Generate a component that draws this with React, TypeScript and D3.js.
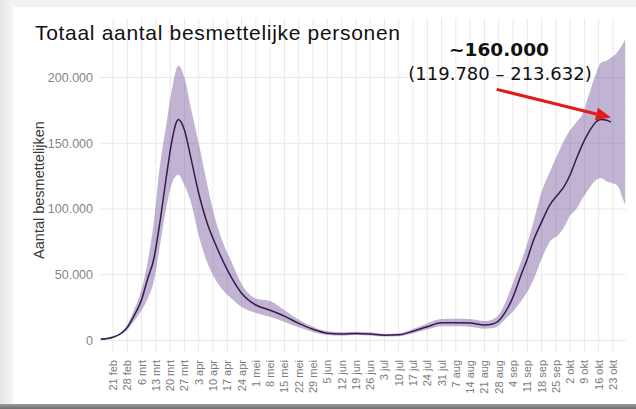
import React from "react";
import * as d3 from "d3";

const dates = [
  "2020-02-15","2020-02-21","2020-02-25","2020-02-28","2020-03-02","2020-03-06","2020-03-09","2020-03-12",
  "2020-03-15","2020-03-18","2020-03-21","2020-03-24","2020-03-27","2020-03-30","2020-04-03","2020-04-07",
  "2020-04-11","2020-04-15","2020-04-19","2020-04-24","2020-05-01","2020-05-08","2020-05-15","2020-05-22",
  "2020-05-29","2020-06-05","2020-06-12","2020-06-19","2020-06-26","2020-07-03","2020-07-10","2020-07-17",
  "2020-07-24","2020-07-31","2020-08-07","2020-08-14","2020-08-21","2020-08-25","2020-08-28","2020-08-31",
  "2020-09-04","2020-09-08","2020-09-11","2020-09-14","2020-09-18","2020-09-22","2020-09-26","2020-09-29",
  "2020-10-02","2020-10-05","2020-10-08","2020-10-11","2020-10-14","2020-10-17","2020-10-20","2020-10-22",
  "2020-10-25","2020-10-28","2020-10-29",
];

const mid: (number | null)[] = [
  1000, 2500, 5500, 10000, 18000, 31000, 47000, 62000,
  90000, 123000, 153000, 168000, 160000, 140000, 112000, 90000,
  74000, 60000, 48000, 36000, 27000, 23000, 18500, 13000,
  8500, 5500, 4900, 5400, 4900, 4000, 4300, 7000,
  10500, 13500, 13500, 13300, 11800, 12500, 15000, 21000,
  33000, 50000, 62000, 76000, 90000, 103000, 111000, 117000,
  126000, 138000, 149000, 158000, 165000, 168000, 167500, 166000,
  null, null, null,
];

const lower = [
  500, 2000, 4500, 8000, 14000, 23000, 32000, 45000,
  72000, 100000, 120000, 126000, 118000, 106000, 80000, 60000,
  47000, 38000, 32000, 25500, 21000, 18000, 14000, 10000,
  6500, 4200, 3700, 4200, 3800, 3000, 3200, 5500,
  8300, 10800, 10800, 10500, 9000, 9500, 11500, 16000,
  22000, 30000, 37000, 46000, 62000, 75000, 80000, 86000,
  95000, 100000, 108000, 115000, 121000, 123500, 121000, 120000,
  118000, 107000, 103000,
];

const upper = [
  1500, 3000, 6500, 12000, 22000, 39000, 60000, 90000,
  133000, 163000, 192000, 209000, 200000, 178000, 150000, 120000,
  93000, 74000, 60000, 43000, 32000, 30000, 23000, 16000,
  10500, 7000, 6200, 6700, 6200, 5200, 5600, 8800,
  13000, 16300, 16500, 16300, 14800, 16000, 19500, 28000,
  44000, 60000, 74000, 90000, 113000, 128000, 142000, 152000,
  160000, 166000, 172000, 186000, 200000, 211000, 213000, 215000,
  219000, 226000, 229000,
];

const yTicks = [0, 50000, 100000, 150000, 200000];
const firstTick = "2020-02-21";
const tickCount = 36;
const nlMonths = ["jan", "feb", "mrt", "apr", "mei", "jun", "jul", "aug", "sep", "okt", "nov", "dec"];

const title = "Totaal aantal besmettelijke personen";
const yTitle = "Aantal besmettelijken";
const noteMain = "~160.000";
const noteRange = "(119.780 \u2013 213.632)";
const arrowFrom = { date: "2020-08-27", value: 191000 };
const arrowTo = { date: "2020-10-22", value: 169500 };

const W = 636;
const H = 409;

export default function App() {
  const parse = d3.utcParse("%Y-%m-%d");
  const start = parse(firstTick)!;
  const tickDates = d3.range(tickCount).map((i) => d3.utcDay.offset(start, 7 * i));
  const x = d3.scaleUtc().domain([start, tickDates[tickDates.length - 1]]).range([113, 613]);
  const y = d3.scaleLinear().domain([0, 200000]).range([340.5, 77.5]);
  const nf = d3.formatLocale({ decimal: ",", thousands: ".", grouping: [3], currency: ["€", ""] }).format(",");

  const rows = dates.map((d, i) => ({ date: parse(d)!, mid: mid[i], lo: lower[i], up: upper[i] }));

  const area = d3
    .area<any>()
    .x((d) => x(d.date))
    .y0((d) => y(d.lo))
    .y1((d) => y(d.up))
    .curve(d3.curveMonotoneX);
  const line = d3
    .line<any>()
    .defined((d) => d.mid != null)
    .x((d) => x(d.date))
    .y((d) => y(d.mid))
    .curve(d3.curveMonotoneX);

  const ax0 = x(parse(arrowFrom.date)!);
  const ay0 = y(arrowFrom.value);
  const ax1 = x(parse(arrowTo.date)!);
  const ay1 = y(arrowTo.value);
  const ang = Math.atan2(ay1 - ay0, ax1 - ax0);
  const headLen = 15;
  const headW = 6.5;
  const bx = ax1 - headLen * Math.cos(ang);
  const by = ay1 - headLen * Math.sin(ang);
  const px = -Math.sin(ang);
  const py = Math.cos(ang);
  const head = `M${ax1},${ay1} L${bx + px * headW},${by + py * headW} L${bx - px * headW},${by - py * headW} Z`;

  const plotLeft = 99;
  const plotRight = 626;
  const plotTop = 18;
  const plotBottom = 353;

  return (
    <svg width={W} height={H} style={{ position: "absolute", left: 0, top: 0 }}>
      <defs>
        <linearGradient id="leftShade" x1="0" x2="1" y1="0" y2="0">
          <stop offset="0" stopColor="#e4e4e4" />
          <stop offset="1" stopColor="#f6f6f6" />
        </linearGradient>
        <linearGradient id="bottomBar" x1="0" x2="0" y1="0" y2="1">
          <stop offset="0" stopColor="#9a9a9a" />
          <stop offset="1" stopColor="#6f6f6f" />
        </linearGradient>
      </defs>
      <rect x={0} y={0} width={W} height={H} fill="#f1f1f1" />
      <rect x={0} y={0} width={13} height={H} fill="url(#leftShade)" />
      <rect x={13} y={7} width={W - 13} height={397} fill="#ffffff" />
      <rect x={0} y={404} width={W} height={5} fill="url(#bottomBar)" />

      {/* grid */}
      {yTicks.map((t) => (
        <line key={"h" + t} x1={plotLeft} x2={plotRight} y1={y(t)} y2={y(t)} stroke="#e9e9e9" strokeWidth={1} />
      ))}
      {tickDates.map((d, i) => (
        <line key={"v" + i} x1={x(d)} x2={x(d)} y1={plotTop} y2={plotBottom} stroke="#e9e9e9" strokeWidth={1} />
      ))}

      {/* band and line */}
      <path d={area(rows) || ""} fill="#6a4c93" fillOpacity={0.42} />
      <path d={line(rows) || ""} fill="none" stroke="#35194f" strokeWidth={1.5} />

      {/* y labels */}
      {yTicks.map((t) => (
        <text
          key={"yl" + t}
          x={93}
          y={y(t)}
          dy="0.35em"
          textAnchor="end"
          fontFamily="Liberation Sans, Arial, sans-serif"
          fontSize={12.5}
          fill="#858585"
        >
          {nf(t)}
        </text>
      ))}
      <text
        transform={`translate(44,190) rotate(-90)`}
        textAnchor="middle"
        fontFamily="Liberation Sans, Arial, sans-serif"
        fontSize={14.5}
        fill="#3a3a3a"
      >
        {yTitle}
      </text>

      {/* x labels */}
      {tickDates.map((d, i) => (
        <text
          key={"xl" + i}
          transform={`translate(${x(d) + 4},360) rotate(-90)`}
          textAnchor="end"
          fontFamily="Liberation Sans, Arial, sans-serif"
          fontSize={11}
          fill="#7a7a7a"
        >
          {`${d.getUTCDate()} ${nlMonths[d.getUTCMonth()]}`}
        </text>
      ))}

      {/* title */}
      <text x={35} y={40} fontFamily="Liberation Sans, Arial, sans-serif" fontSize={21} fill="#111" textLength={365} lengthAdjust="spacing">
        {title}
      </text>

      {/* annotation */}
      <text x={499} y={56} textAnchor="middle" fontFamily="DejaVu Sans, Verdana, sans-serif" fontWeight="bold" fontSize={18.5} fill="#111">
        {noteMain}
      </text>
      <text x={500} y={80} textAnchor="middle" fontFamily="DejaVu Sans, Verdana, sans-serif" fontSize={18} fill="#111">
        {noteRange}
      </text>
      <line x1={ax0} y1={ay0} x2={bx} y2={by} stroke="#e3191c" strokeWidth={3} />
      <path d={head} fill="#e3191c" />
    </svg>
  );
}
